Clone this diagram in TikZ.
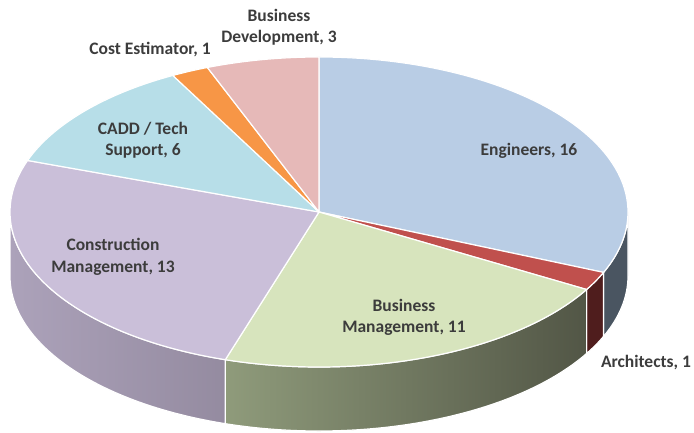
\documentclass[tikz,border=0pt]{standalone}
\usepackage{fontspec}
\setmainfont{Carlito}
\usetikzlibrary{calc}
\definecolor{engTop}{HTML}{B9CDE5}
\definecolor{engSide}{HTML}{4A5561}
\definecolor{arcTop}{HTML}{C0504D}
\definecolor{arcSide}{HTML}{4F1D1D}
\definecolor{bmTop}{HTML}{D7E4BD}
\definecolor{bmSideL}{HTML}{8F9B7B}
\definecolor{bmSideR}{HTML}{525646}
\definecolor{cmTop}{HTML}{CABFD9}
\definecolor{cmSideL}{HTML}{ACA2BA}
\definecolor{cmSideR}{HTML}{8A8195}
\definecolor{caddTop}{HTML}{B7DEE8}
\definecolor{costTop}{HTML}{F79646}
\definecolor{bdTop}{HTML}{E6B9B8}
\definecolor{labelgray}{HTML}{3C3C3C}
\tikzset{
  slice/.style={draw=white, line width=1.2pt, line join=round},
  lbl/.style={text=labelgray, font=\fontsize{17.5}{21.5}\selectfont\bfseries, align=center, inner sep=0pt},
}
\newcommand{\topslice}[3]{% start, end, colour
  \fill[slice, fill=#3] (319pt,221pt) -- ++(#1:309pt and 155pt)
    arc[start angle=#1, end angle=#2, x radius=309pt, y radius=155pt] -- cycle;}
\begin{document}
\begin{tikzpicture}[x=1pt,y=1pt]
\useasboundingbox (0,0) rectangle (694,433);
% side faces
\fill[slice, fill=engSide] (319pt,221pt) ++(-22.94:309pt and 155pt)
  arc[start angle=-22.94, end angle=0, x radius=309pt, y radius=155pt] -- ++(0,-64pt)
  arc[start angle=0, end angle=-22.94, x radius=309pt, y radius=155pt] -- cycle;
\fill[slice, fill=arcSide] (319pt,221pt) ++(-30:309pt and 155pt)
  arc[start angle=-30, end angle=-22.94, x radius=309pt, y radius=155pt] -- ++(0,-64pt)
  arc[start angle=-22.94, end angle=-30, x radius=309pt, y radius=155pt] -- cycle;
\shadedraw[slice, left color=bmSideL, right color=bmSideR] (319pt,221pt) ++(-107.65:309pt and 155pt)
  arc[start angle=-107.65, end angle=-30, x radius=309pt, y radius=155pt] -- ++(0,-64pt)
  arc[start angle=-30, end angle=-107.65, x radius=309pt, y radius=155pt] -- cycle;
\shadedraw[slice, left color=cmSideL, right color=cmSideR] (319pt,221pt) ++(-180:309pt and 155pt)
  arc[start angle=-180, end angle=-107.65, x radius=309pt, y radius=155pt] -- ++(0,-64pt)
  arc[start angle=-107.65, end angle=-180, x radius=309pt, y radius=155pt] -- cycle;
% top faces
\topslice{-22.94}{90}{engTop}
\topslice{-30}{-22.94}{arcTop}
\topslice{-107.65}{-30}{bmTop}
\topslice{-199.41}{-107.65}{cmTop}
\topslice{-241.76}{-199.41}{caddTop}
\topslice{-248.82}{-241.76}{costTop}
\topslice{-270}{-248.82}{bdTop}
% labels
\node[lbl] (bd) at (279,406) {Business\\Development, 3};
\node[lbl] (cost) at (150,383) {Cost Estimator, 1};
\node[lbl] (cadd) at (143,293) {CADD / Tech\\Support, 6};
\node[lbl] (eng) at (529,282) {Engineers, 16};
\node[lbl] (cm) at (113,176) {Construction\\Management, 13};
\node[lbl] (bm) at (404,115.5) {Business\\Management, 11};
\node[lbl] (arch) at (646,70) {Architects, 1};
\end{tikzpicture}
\end{document}
